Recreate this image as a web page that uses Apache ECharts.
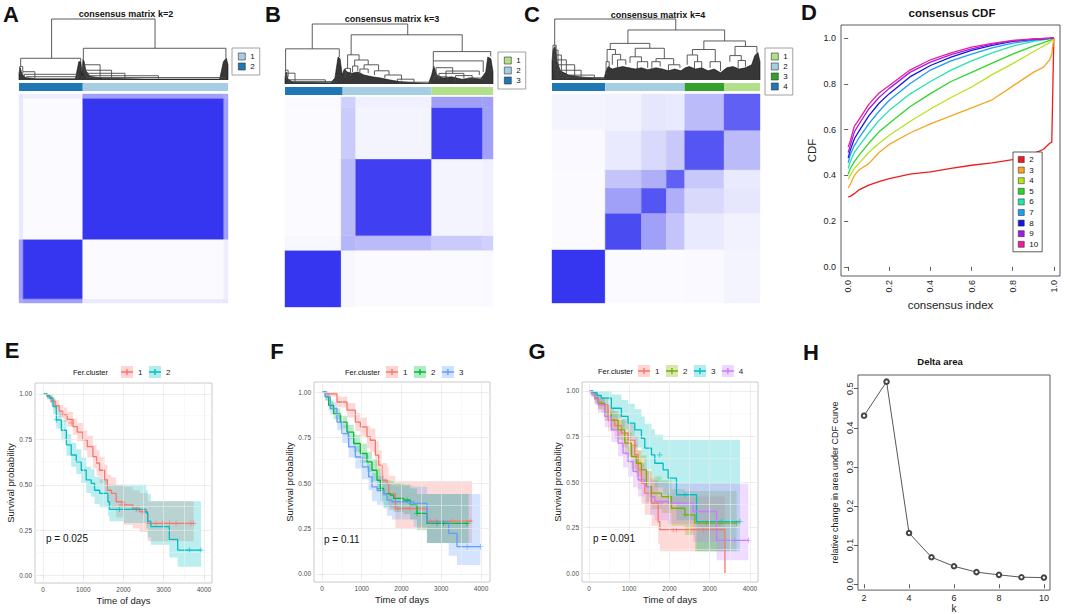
<!DOCTYPE html>
<html><head><meta charset="utf-8">
<script src="https://cdn.jsdelivr.net/npm/echarts@6/dist/echarts.min.js"></script>
<style>html,body{margin:0;padding:0;background:#fff}#c{width:1065px;height:614px}</style>
</head><body><div id="c"></div>
<script>
// ================= DATA =================
// --- consensus matrices: segment bounds (sample position 0-100) and block consensus values
const heatBoundsA = [0, 2, 30.5, 98, 100];
const heatBlocksA = [
  [0.40, 0.45, 0.10, 0.12],
  [0.45, 0.95, 0.02, 0.08],
  [0.10, 0.02, 0.95, 0.45],
  [0.12, 0.08, 0.45, 0.40]
];
const heatBoundsB = [0, 27, 34, 70.5, 95, 100];
const heatBlocksB = [
  [0.95, 0.04, 0.02, 0.02, 0.03],
  [0.04, 0.35, 0.32, 0.25, 0.22],
  [0.02, 0.32, 0.90, 0.05, 0.07],
  [0.02, 0.25, 0.05, 0.90, 0.45],
  [0.03, 0.22, 0.07, 0.45, 0.45]
];
const heatBoundsC = [0, 25.6, 43, 55, 63.8, 82.7, 100];
const heatBlocksC = [
  [0.95, 0.02, 0.02, 0.02, 0.03, 0.05],
  [0.02, 0.85, 0.45, 0.28, 0.10, 0.06],
  [0.02, 0.45, 0.80, 0.38, 0.18, 0.12],
  [0.02, 0.28, 0.38, 0.75, 0.26, 0.10],
  [0.03, 0.10, 0.18, 0.26, 0.80, 0.32],
  [0.05, 0.06, 0.12, 0.10, 0.32, 0.75]
];
// --- cluster colour bars: [start, end, cluster]
const barsA = [[0, 30.5, '2'], [30.5, 100, '1']];
const barsB = [[0, 27.7, '3'], [27.7, 70.5, '2'], [70.5, 100, '1']];
const barsC = [[0, 25.6, '4'], [25.6, 63.8, '2'], [63.8, 82.7, '3'], [82.7, 100, '1']];
const clusterColA = {'1': '#A6CEE3', '2': '#1F78B4'};
const clusterColB = {'1': '#B2DF8A', '2': '#A6CEE3', '3': '#1F78B4'};
const clusterColC = {'1': '#B2DF8A', '2': '#A6CEE3', '3': '#33A02C', '4': '#1F78B4'};
// --- dendrogram merges: [xLeft, hLeft, xRight, hRight, hMerge]
const dendroA = [
  [15.6, 0.356, 65.1, 0.52, 1.0],
  [0.8, 0.22, 29.5, 0.30, 0.356],
  [30.8, 0.34, 99.0, 0.36, 0.52],
  [0.3, 0.10, 1.8, 0.14, 0.22],
  [1.8, 0.09, 7.6, 0.03, 0.136],
  [2.5, 0.05, 28.1, 0.02, 0.093],
  [3.5, 0.02, 27.0, 0.02, 0.054],
  [31.2, 0.16, 38.8, 0.05, 0.25],
  [31.5, 0.11, 44.3, 0.03, 0.16],
  [31.8, 0.07, 50.7, 0.02, 0.11],
  [32.2, 0.04, 66.7, 0.02, 0.07],
  [32.5, 0.02, 98.6, 0.02, 0.04]
];
const dendroB = [
  [13.1, 0.586, 59.0, 0.82, 1.0],
  [0.3, 0.23, 26.1, 0.45, 0.586],
  [31.8, 0.486, 85.2, 0.54, 0.82],
  [30.1, 0.26, 35.6, 0.40, 0.486],
  [71.3, 0.385, 98.9, 0.46, 0.54],
  [0.2, 0.10, 1.5, 0.12, 0.23],
  [0.8, 0.07, 4.8, 0.03, 0.18],
  [1.6, 0.04, 19.4, 0.02, 0.07],
  [2.0, 0.02, 24.8, 0.02, 0.04],
  [29.0, 0.10, 31.5, 0.12, 0.26],
  [33.5, 0.30, 40.0, 0.32, 0.40],
  [32.5, 0.20, 35.0, 0.22, 0.30],
  [38.0, 0.25, 45.0, 0.22, 0.32],
  [36.0, 0.15, 40.0, 0.18, 0.25],
  [43.0, 0.15, 50.0, 0.15, 0.22],
  [48.0, 0.10, 56.0, 0.06, 0.15],
  [54.0, 0.04, 62.0, 0.02, 0.08],
  [55.0, 0.01, 70.0, 0.00, 0.03],
  [71.3, 0.272, 95.3, 0.20, 0.385],
  [72.6, 0.12, 80.6, 0.18, 0.272],
  [77.4, 0.10, 93.4, 0.15, 0.216],
  [74.0, 0.08, 86.0, 0.10, 0.177],
  [71.5, 0.05, 78.0, 0.06, 0.12],
  [82.0, 0.05, 90.0, 0.08, 0.14],
  [88.0, 0.04, 95.0, 0.06, 0.10]
];
const dendroC = [
  [1.3, 0.57, 59.5, 0.82, 1.0],
  [0.5, 0.49, 2.0, 0.30, 0.57],
  [0.5, 0.41, 2.9, 0.10, 0.49],
  [0.8, 0.33, 4.5, 0.08, 0.41],
  [1.0, 0.25, 6.9, 0.06, 0.33],
  [1.3, 0.16, 10.9, 0.05, 0.25],
  [1.6, 0.08, 14.0, 0.04, 0.16],
  [2.0, 0.04, 20.4, 0.02, 0.08],
  [2.5, 0.02, 25.2, 0.01, 0.04],
  [36.5, 0.60, 83.0, 0.64, 0.82],
  [28.0, 0.50, 47.0, 0.52, 0.60],
  [26.5, 0.30, 30.5, 0.42, 0.50],
  [26.0, 0.10, 27.5, 0.20, 0.30],
  [29.0, 0.25, 33.0, 0.33, 0.42],
  [31.5, 0.20, 35.5, 0.25, 0.33],
  [40.0, 0.38, 54.0, 0.35, 0.52],
  [37.5, 0.28, 43.0, 0.30, 0.38],
  [41.0, 0.18, 46.0, 0.20, 0.30],
  [50.0, 0.30, 58.5, 0.25, 0.35],
  [48.0, 0.20, 52.0, 0.22, 0.30],
  [56.0, 0.15, 61.5, 0.20, 0.25],
  [73.0, 0.50, 93.0, 0.55, 0.64],
  [67.5, 0.41, 78.5, 0.30, 0.50],
  [65.0, 0.25, 70.0, 0.30, 0.41],
  [68.5, 0.18, 72.0, 0.20, 0.30],
  [76.0, 0.20, 81.0, 0.15, 0.30],
  [88.0, 0.40, 98.5, 0.45, 0.55],
  [85.5, 0.30, 91.0, 0.32, 0.40],
  [89.5, 0.20, 93.0, 0.22, 0.32]
];
// --- dense leaf fringe of each dendrogram: [x, h]
const fringeA = [[0,0],[0,0.12],[0.6,0.2],[1.4,0.1],[3,0.04],[8,0.02],[27,0.02],[28.6,0.3],[29.6,0.3],[30.2,0.08],[30.6,0.34],[31.2,0.3],[32,0.15],[34,0.06],[40,0.03],[60,0.015],[96,0.015],[97.8,0.3],[99.2,0.36],[100,0.25],[100,0]];
const fringeB = [[0,0],[0,0.1],[0.5,0.2],[1.5,0.08],[4,0.03],[22,0.02],[24,0.1],[25.5,0.45],[26.5,0.42],[27.5,0.15],[28.5,0.25],[30,0.2],[32,0.18],[35,0.2],[38,0.15],[42,0.12],[46,0.1],[50,0.07],[55,0.04],[62,0.02],[69,0.01],[70.5,0.15],[71.5,0.3],[73,0.15],[76,0.1],[80,0.12],[85,0.08],[90,0.1],[94,0.08],[96.5,0.2],[97.5,0.45],[99,0.42],[100,0.2],[100,0]];
const fringeC = [[0,0],[0,0.3],[0.5,0.5],[1.5,0.55],[2.5,0.3],[4,0.15],[8,0.08],[14,0.05],[20,0.03],[25,0.02],[26,0.15],[27,0.22],[29,0.18],[31,0.2],[34,0.22],[37,0.2],[40,0.18],[43,0.2],[46,0.17],[50,0.2],[53,0.18],[56,0.15],[59,0.18],[62,0.15],[64,0.2],[66,0.22],[69,0.18],[72,0.2],[75,0.15],[78,0.18],[81,0.12],[84,0.2],[87,0.22],[90,0.18],[93,0.2],[96,0.25],[97.5,0.4],[99,0.45],[100,0.3],[100,0]];

// --- consensus CDF (panel D)
const consensusIndex = [0, 0.01, 0.03, 0.05, 0.1, 0.15, 0.2, 0.3, 0.4, 0.5, 0.6, 0.7, 0.8, 0.9, 0.95, 0.98, 0.99, 1.0];
const cdfK = ['2','3','4','5','6','7','8','9','10'];
const cdfK2  = [0.306,0.308,0.32,0.335,0.357,0.372,0.386,0.405,0.415,0.43,0.444,0.454,0.469,0.495,0.514,0.54,0.545,1.0];
const cdfK3  = [0.345,0.36,0.40,0.422,0.451,0.50,0.535,0.585,0.625,0.66,0.695,0.73,0.79,0.85,0.873,0.905,0.93,1.0];
const cdfK4  = [0.383,0.40,0.43,0.45,0.50,0.54,0.575,0.635,0.69,0.74,0.786,0.84,0.888,0.94,0.965,0.98,0.99,0.997];
const cdfK5  = [0.405,0.43,0.46,0.485,0.54,0.59,0.628,0.70,0.757,0.81,0.85,0.89,0.93,0.965,0.98,0.99,0.995,1.0];
const cdfK6  = [0.43,0.46,0.50,0.525,0.585,0.64,0.684,0.755,0.81,0.86,0.90,0.935,0.965,0.985,0.992,0.997,0.998,1.0];
const cdfK7  = [0.455,0.49,0.53,0.56,0.625,0.68,0.728,0.80,0.86,0.90,0.93,0.957,0.978,0.99,0.995,0.998,0.999,1.0];
const cdfK8  = [0.476,0.51,0.56,0.59,0.66,0.715,0.757,0.83,0.88,0.917,0.946,0.968,0.985,0.994,0.997,0.999,1.0,1.0];
const cdfK9  = [0.50,0.53,0.59,0.62,0.69,0.74,0.78,0.85,0.895,0.928,0.953,0.973,0.988,0.995,0.998,0.999,1.0,1.0];
const cdfK10 = [0.524,0.55,0.615,0.64,0.71,0.76,0.793,0.86,0.905,0.935,0.96,0.977,0.99,0.996,0.998,1.0,1.0,1.0];
const cdfColors = ['#EE1C1C','#F5A623','#B4E41E','#2CD62C','#24E3B0','#1E9EEE','#1616E0','#9E1EE6','#EE1E9C'];
const cdfTicks = [0, 0.2, 0.4, 0.6, 0.8, 1.0];

// --- Kaplan-Meier: [time, survival, lower CI, upper CI]
const kmE1 = [[0,1,1,1],[100,0.985,0.97,1],[200,0.96,0.935,0.985],[300,0.935,0.905,0.965],[400,0.905,0.87,0.94],[500,0.884,0.845,0.925],[600,0.86,0.82,0.9],[744,0.82,0.775,0.865],[850,0.79,0.74,0.84],[990,0.747,0.69,0.80],[1100,0.71,0.65,0.77],[1240,0.655,0.59,0.72],[1330,0.62,0.55,0.69],[1405,0.58,0.51,0.655],[1530,0.527,0.45,0.61],[1600,0.47,0.39,0.555],[1700,0.453,0.37,0.54],[1818,0.407,0.32,0.50],[2000,0.39,0.28,0.49],[2231,0.37,0.26,0.47],[2400,0.352,0.24,0.455],[2600,0.288,0.19,0.41],[3744,0.288,0.19,0.41]];
const kmE2 = [[0,1,1,1],[100,0.99,0.97,1],[165,0.976,0.95,1],[248,0.93,0.89,0.97],[330,0.857,0.81,0.905],[455,0.80,0.745,0.855],[580,0.72,0.66,0.78],[700,0.664,0.60,0.73],[826,0.627,0.56,0.695],[950,0.58,0.51,0.65],[1074,0.527,0.455,0.60],[1198,0.508,0.435,0.585],[1281,0.47,0.395,0.545],[1405,0.453,0.375,0.53],[1612,0.407,0.33,0.50],[1653,0.365,0.30,0.50],[2000,0.365,0.29,0.50],[2562,0.345,0.26,0.47],[2603,0.30,0.21,0.45],[2680,0.27,0.17,0.41],[3140,0.20,0.10,0.41],[3347,0.141,0.05,0.41],[3926,0.141,0.05,0.41]];
const censE1 = [[496,0.884],[700,0.84],[1942,0.39],[2025,0.39],[2355,0.37],[2479,0.352],[2810,0.288],[2975,0.288],[3140,0.288],[3306,0.288],[3678,0.288],[3744,0.288]];
const censE2 = [[330,0.857],[1900,0.365],[2314,0.365],[3636,0.141],[3926,0.141]];

const kmF1 = [[0,1,1,1],[126,0.99,0.975,1],[377,0.945,0.915,0.975],[629,0.90,0.86,0.94],[839,0.835,0.785,0.885],[964,0.808,0.755,0.86],[1132,0.753,0.69,0.815],[1216,0.735,0.67,0.80],[1342,0.653,0.58,0.73],[1426,0.598,0.52,0.68],[1509,0.515,0.43,0.61],[1635,0.497,0.41,0.59],[1677,0.442,0.35,0.54],[1845,0.36,0.25,0.51],[2641,0.29,0.17,0.51],[3774,0.29,0.17,0.51]];
const kmF2 = [[0,1,1,1],[80,0.975,0.955,0.995],[168,0.927,0.90,0.955],[293,0.88,0.85,0.91],[461,0.835,0.80,0.87],[629,0.78,0.74,0.82],[797,0.717,0.67,0.765],[964,0.662,0.61,0.715],[1132,0.616,0.56,0.67],[1258,0.57,0.51,0.63],[1384,0.515,0.45,0.58],[1468,0.47,0.40,0.54],[1551,0.442,0.37,0.515],[1719,0.433,0.36,0.51],[1803,0.415,0.34,0.50],[2055,0.406,0.33,0.49],[2222,0.378,0.30,0.47],[2390,0.333,0.24,0.44],[2641,0.278,0.17,0.44],[3690,0.278,0.17,0.44]];
const kmF3 = [[0,1,1,1],[84,0.973,0.95,0.995],[210,0.91,0.875,0.945],[377,0.835,0.79,0.88],[503,0.771,0.72,0.82],[671,0.698,0.64,0.755],[839,0.643,0.58,0.705],[1006,0.589,0.52,0.655],[1174,0.534,0.46,0.605],[1258,0.479,0.40,0.555],[1384,0.46,0.38,0.54],[1551,0.442,0.36,0.525],[1635,0.406,0.32,0.49],[1761,0.397,0.30,0.485],[2306,0.388,0.26,0.48],[2641,0.287,0.17,0.44],[3187,0.223,0.10,0.44],[3396,0.15,0.05,0.44],[3983,0.15,0.05,0.44]];
const censF1 = [[1900,0.36],[2200,0.36],[2725,0.29],[2851,0.29],[3270,0.29],[3732,0.29]];
const censF2 = [[1468,0.47],[2138,0.406],[2390,0.333],[2893,0.278],[3060,0.278],[3648,0.278]];
const censF3 = [[2222,0.388],[2500,0.388],[3650,0.15],[3983,0.15]];

const kmG1 = [[0,1,1,1],[60,0.985,0.97,1],[150,0.96,0.93,0.99],[230,0.94,0.90,0.975],[307,0.923,0.88,0.965],[473,0.84,0.78,0.90],[639,0.81,0.74,0.88],[805,0.768,0.69,0.845],[971,0.73,0.64,0.82],[1137,0.65,0.55,0.75],[1220,0.567,0.46,0.67],[1303,0.494,0.38,0.61],[1386,0.439,0.32,0.56],[1552,0.384,0.26,0.51],[1718,0.283,0.16,0.42],[1760,0.238,0.12,0.42],[3378,0,0,0]];
const kmG2 = [[0,1,1,1],[60,0.985,0.97,1],[140,0.96,0.935,0.985],[224,0.932,0.90,0.965],[390,0.877,0.835,0.92],[556,0.84,0.79,0.89],[722,0.786,0.73,0.84],[888,0.713,0.65,0.775],[1054,0.64,0.57,0.71],[1178,0.603,0.53,0.675],[1303,0.567,0.49,0.645],[1427,0.475,0.39,0.56],[1552,0.439,0.35,0.53],[1801,0.42,0.33,0.51],[2050,0.356,0.26,0.46],[2382,0.32,0.21,0.45],[2631,0.274,0.12,0.45],[3668,0.274,0.12,0.45]];
const kmG3 = [[0,1,1,1],[100,0.99,0.97,1],[200,0.975,0.945,1],[307,0.96,0.92,1],[556,0.905,0.85,0.98],[805,0.86,0.79,0.95],[971,0.823,0.74,0.93],[1137,0.786,0.69,0.90],[1303,0.74,0.63,0.86],[1386,0.686,0.57,0.82],[1552,0.649,0.53,0.79],[1635,0.603,0.47,0.76],[1842,0.567,0.43,0.73],[1967,0.521,0.38,0.73],[2174,0.43,0.29,0.73],[2672,0.283,0.12,0.73],[3751,0.283,0.12,0.73]];
const kmG4 = [[0,1,1,1],[60,0.985,0.97,1],[140,0.955,0.925,0.985],[224,0.923,0.88,0.965],[390,0.86,0.80,0.92],[556,0.786,0.72,0.85],[722,0.713,0.64,0.785],[846,0.658,0.58,0.735],[971,0.612,0.53,0.695],[1095,0.558,0.47,0.645],[1220,0.512,0.42,0.60],[1386,0.475,0.38,0.57],[1510,0.42,0.32,0.52],[1635,0.393,0.29,0.50],[1967,0.384,0.27,0.49],[2589,0.338,0.17,0.49],[3170,0.18,0.07,0.49],[3959,0.18,0.07,0.49]];
const censG1 = [[971,0.75],[1137,0.70],[2091,0.238],[2174,0.238],[2838,0.238]];
const censG2 = [[1967,0.42],[2382,0.32],[2921,0.274],[3253,0.274],[3668,0.274]];
const censG3 = [[1759,0.649],[2382,0.43],[3295,0.283],[3751,0.283]];
const censG4 = [[1801,0.384],[2216,0.384],[3627,0.18],[3959,0.18]];

const kmTimeTicks = [0, 1000, 2000, 3000, 4000];
const kmTimeMinor = [500, 1500, 2500, 3500];
const kmSurvTicks = [0, 0.25, 0.5, 0.75, 1.0];
const kmSurvMinor = [0.125, 0.375, 0.625, 0.875];
const hue2 = ['#F8766D', '#00BFC4'];
const hue3 = ['#F8766D', '#00BA38', '#619CFF'];
const hue4 = ['#F8766D', '#7CAE00', '#00BFC4', '#C77CFF'];
const pValues = ['p = 0.025', 'p = 0.11', 'p = 0.091'];

// --- Delta area (panel H)
const deltaK = [2, 3, 4, 5, 6, 7, 8, 9, 10];
const deltaArea = [0.431, 0.518, 0.131, 0.069, 0.046, 0.031, 0.024, 0.018, 0.017];
const deltaXTicks = [2, 4, 6, 8, 10];
const deltaYTicks = [0, 0.1, 0.2, 0.3, 0.4, 0.5];

// ================= CHART =================
const FONT = '"Liberation Sans", Arial, Helvetica, sans-serif';
const chart = echarts.init(document.getElementById('c'), null, {renderer: 'svg'});

function blueOf(v) {
  const r = Math.round(255 - 212 * v), b = Math.round(255 - 15 * v);
  return 'rgb(' + r + ',' + r + ',' + b + ')';
}
function rgba(hex, a) {
  const n = parseInt(hex.slice(1), 16);
  return 'rgba(' + (n >> 16) + ',' + ((n >> 8) & 255) + ',' + (n & 255) + ',' + a + ')';
}
function heatCells(bounds, M) {
  const out = [];
  for (let i = 0; i < bounds.length - 1; i++)
    for (let j = 0; j < bounds.length - 1; j++)
      out.push([bounds[i], bounds[i + 1], bounds[j], bounds[j + 1], M[i][j]]);
  return out;
}

const grids = [], xAxes = [], yAxes = [], series = [], legends = [], texts = [];
function hiddenAxes(idx, ymax) {
  xAxes.push({gridIndex: idx, type: 'value', min: 0, max: 100, show: false});
  yAxes.push({gridIndex: idx, type: 'value', min: 0, max: ymax, show: false});
}

// ---- panels A, B, C ----
const matrixPanels = [
  {x: 19, w: 209, dTop: 19, dH: 61, bTop: 83, hTop: 94, hH: 209, bounds: heatBoundsA, blocks: heatBlocksA, bars: barsA, cols: clusterColA, dendro: dendroA, fringe: fringeA,
   legend: {left: 232, top: 48, names: ['1', '2']}},
  {x: 285, w: 208, dTop: 24, dH: 60, bTop: 87, hTop: 97, hH: 210, bounds: heatBoundsB, blocks: heatBlocksB, bars: barsB, cols: clusterColB, dendro: dendroB, fringe: fringeB,
   legend: {left: 498, top: 52, names: ['1', '2', '3']}},
  {x: 552, w: 208, dTop: 19, dH: 61, bTop: 83, hTop: 94, hH: 209, bounds: heatBoundsC, blocks: heatBlocksC, bars: barsC, cols: clusterColC, dendro: dendroC, fringe: fringeC,
   legend: {left: 765, top: 48, names: ['1', '2', '3', '4']}}
];
matrixPanels.forEach(function (p) {
  const gD = grids.length;
  grids.push({left: p.x, top: p.dTop, width: p.w, height: p.dH});
  hiddenAxes(gD, 1);
  const gB = grids.length;
  grids.push({left: p.x, top: p.bTop, width: p.w, height: 8});
  hiddenAxes(gB, 1);
  const gH = grids.length;
  grids.push({left: p.x, top: p.hTop, width: p.w, height: p.hH});
  hiddenAxes(gH, 100);
  series.push({type: 'line', xAxisIndex: gD, yAxisIndex: gD, data: p.fringe, symbol: 'none', silent: true,
    lineStyle: {width: 0.6, color: '#111'}, areaStyle: {color: '#262626', opacity: 0.92}, z: 2});
  series.push({type: 'custom', xAxisIndex: gD, yAxisIndex: gD, data: p.dendro, silent: true, z: 3,
    encode: {x: [0, 2], y: [1, 3, 4]},
    renderItem: function (params, api) {
      const a = api.coord([api.value(0), api.value(1)]);
      const b = api.coord([api.value(0), api.value(4)]);
      const c = api.coord([api.value(2), api.value(4)]);
      const d = api.coord([api.value(2), api.value(3)]);
      return {type: 'polyline', shape: {points: [a, b, c, d]}, style: {stroke: '#4a4a4a', lineWidth: 0.9, fill: null}};
    }});
  const cols = p.cols;
  series.push({type: 'custom', xAxisIndex: gB, yAxisIndex: gB, data: p.bars.map(function (b) { return [b[0], b[1]]; }), silent: true,
    encode: {x: [0, 1]},
    renderItem: function (params, api) {
      const item = p.bars[params.dataIndex];
      const p0 = api.coord([api.value(0), 1]);
      const p1 = api.coord([api.value(1), 0]);
      return {type: 'rect', shape: {x: p0[0], y: p0[1], width: p1[0] - p0[0], height: p1[1] - p0[1]}, style: {fill: cols[item[2]]}};
    }});
  series.push({type: 'custom', xAxisIndex: gH, yAxisIndex: gH, data: heatCells(p.bounds, p.blocks), silent: true,
    encode: {x: [0, 1], y: [2, 3]},
    renderItem: function (params, api) {
      const p0 = api.coord([api.value(0), api.value(3)]);
      const p1 = api.coord([api.value(1), api.value(2)]);
      const col = blueOf(api.value(4));
      return {type: 'rect', shape: {x: p0[0], y: p0[1], width: p1[0] - p0[0], height: p1[1] - p0[1]},
        style: {fill: col, stroke: col, lineWidth: 0.4}};
    }});
  legends.push({left: p.legend.left, top: p.legend.top, orient: 'vertical', selectedMode: false,
    padding: [4, 5, 4, 6], itemGap: 1, itemWidth: 7, itemHeight: 7, icon: 'rect',
    borderColor: '#8c8c8c', borderWidth: 0.8, backgroundColor: '#fff',
    textStyle: {fontSize: 8, lineHeight: 9, fontFamily: FONT, color: '#111'},
    data: p.legend.names.map(function (n) { return {name: n, itemStyle: {color: cols[n], borderColor: '#333', borderWidth: 0.6}}; })});
});

// ---- panel D : consensus CDF ----
const gD = grids.length;
grids.push({left: 841, top: 25, width: 219, height: 251, show: true, borderColor: '#333', borderWidth: 0.8});
const rAxisText = {fontSize: 9, color: '#222', fontFamily: FONT};
xAxes.push({gridIndex: gD, type: 'value', min: -0.035, max: 1.03, axisLine: {show: false}, splitLine: {show: false},
  axisTick: {show: true, length: 4, customValues: cdfTicks, lineStyle: {color: '#333', width: 0.8}},
  axisLabel: Object.assign({customValues: cdfTicks, rotate: 90, margin: 4, formatter: function (v) { return v.toFixed(1); }}, rAxisText),
  name: 'consensus index', nameLocation: 'middle', nameGap: 23, nameTextStyle: {fontSize: 11.5, fontFamily: FONT, color: '#222'}});
yAxes.push({gridIndex: gD, type: 'value', min: -0.04, max: 1.057, axisLine: {show: false}, splitLine: {show: false},
  axisTick: {show: true, length: 4, customValues: cdfTicks, lineStyle: {color: '#333', width: 0.8}},
  axisLabel: Object.assign({customValues: cdfTicks, margin: 5, formatter: function (v) { return v.toFixed(1); }}, rAxisText),
  name: 'CDF', nameLocation: 'middle', nameGap: 23, nameTextStyle: {fontSize: 11.5, fontFamily: FONT, color: '#222'}});
const cdfValues = [cdfK2, cdfK3, cdfK4, cdfK5, cdfK6, cdfK7, cdfK8, cdfK9, cdfK10];
cdfValues.forEach(function (vals, i) {
  series.push({type: 'line', name: cdfK[i], xAxisIndex: gD, yAxisIndex: gD, symbol: 'none', silent: true,
    data: consensusIndex.map(function (c, j) { return [c, vals[j]]; }),
    lineStyle: {color: cdfColors[i], width: 1.3}, itemStyle: {color: cdfColors[i]}, z: 3});
});
legends.push({left: 1013, top: 152, orient: 'vertical', selectedMode: false,
  padding: [3, 4, 3, 5], itemGap: 1.6, itemWidth: 6, itemHeight: 6, icon: 'rect',
  borderColor: '#333', borderWidth: 0.8, backgroundColor: '#fff',
  textStyle: {fontSize: 8, lineHeight: 9, fontFamily: FONT, color: '#111'},
  data: cdfK.map(function (k, i) { return {name: k, itemStyle: {color: cdfColors[i], borderColor: '#222', borderWidth: 0.5}}; })});

// ---- panels E, F, G : Kaplan-Meier ----
const plusPath = 'path://M4.3,0H5.7V10H4.3ZM0,4.3H10V5.7H0Z';
const lineIcon = 'path://M0,0L0,0M12,12L12,12M0,5.3H12V6.7H0ZM5.3,3H6.7V9H5.3Z';
const kmPanels = [
  {left: 35, top: 383, w: 177, h: 200, xmin: -200, xmax: 4200, ymin: -0.04, ymax: 1.06, groups: [kmE1, kmE2], cens: [censE1, censE2], cols: hue2,
   legLeft: 121, legTop: 366, ferX: 73, ferY: 372, p: pValues[0], pX: 46, pY: 538},
  {left: 314, top: 382, w: 176, h: 200, xmin: -201, xmax: 4226, ymin: -0.044, ymax: 1.055, groups: [kmF1, kmF2, kmF3], cens: [censF1, censF2, censF3], cols: hue3,
   legLeft: 386, legTop: 366, ferX: 345, ferY: 372, p: pValues[1], pX: 324, pY: 539},
  {left: 582, top: 382, w: 176, h: 200, xmin: -174, xmax: 4199, ymin: -0.049, ymax: 1.049, groups: [kmG1, kmG2, kmG3, kmG4], cens: [censG1, censG2, censG3, censG4], cols: hue4,
   legLeft: 638, legTop: 365, ferX: 598, ferY: 371, p: pValues[2], pX: 593, pY: 538}
];
const kmTick = {fontSize: 6.5, color: '#4d4d4d', fontFamily: FONT};
kmPanels.forEach(function (p, pi) {
  const g = grids.length;
  grids.push({left: p.left, top: p.top, width: p.w, height: p.h, show: true, borderColor: '#bdbdbd', borderWidth: 0.8, backgroundColor: '#fff'});
  xAxes.push({gridIndex: g, type: 'value', min: p.xmin, max: p.xmax, axisLine: {show: false}, splitLine: {show: false},
    axisTick: {show: true, length: 2.5, customValues: kmTimeTicks, lineStyle: {color: '#bdbdbd', width: 0.6}},
    axisLabel: Object.assign({customValues: kmTimeTicks, margin: 3, formatter: function (v) { return String(v); }}, kmTick),
    name: 'Time of days', nameLocation: 'middle', nameGap: 12, nameTextStyle: {fontSize: 9.5, fontFamily: FONT, color: '#222'}});
  yAxes.push({gridIndex: g, type: 'value', min: p.ymin, max: p.ymax, axisLine: {show: false}, splitLine: {show: false},
    axisTick: {show: true, length: 2.5, customValues: kmSurvTicks, lineStyle: {color: '#bdbdbd', width: 0.6}},
    axisLabel: Object.assign({customValues: kmSurvTicks, margin: 3, formatter: function (v) { return v.toFixed(2); }}, kmTick),
    name: 'Survival probability', nameLocation: 'middle', nameGap: 17, nameTextStyle: {fontSize: 9.5, fontFamily: FONT, color: '#222'}});
  const gl = [];
  kmTimeMinor.forEach(function (v) { gl.push({xAxis: v, lineStyle: {color: '#f3f3f3', width: 0.5, type: 'solid'}}); });
  kmSurvMinor.forEach(function (v) { gl.push({yAxis: v, lineStyle: {color: '#f3f3f3', width: 0.5, type: 'solid'}}); });
  kmTimeTicks.forEach(function (v) { gl.push({xAxis: v, lineStyle: {color: '#e6e6e6', width: 0.7, type: 'solid'}}); });
  kmSurvTicks.forEach(function (v) { gl.push({yAxis: v, lineStyle: {color: '#e6e6e6', width: 0.7, type: 'solid'}}); });
  series.push({type: 'line', xAxisIndex: g, yAxisIndex: g, data: [], silent: true, z: 1,
    markLine: {silent: true, symbol: ['none', 'none'], label: {show: false}, animation: false, data: gl}});
  p.groups.forEach(function (rows, gi) {
    const col = p.cols[gi];
    series.push({type: 'custom', xAxisIndex: g, yAxisIndex: g, silent: true, z: 2,
      data: rows, encode: {x: 0, y: [2, 3]},
      renderItem: function (params, api) {
        if (params.dataIndex !== 0) return null;
        const pts = [];
        for (let i = 0; i < rows.length; i++) {
          pts.push(api.coord([rows[i][0], rows[i][3]]));
          if (i < rows.length - 1) pts.push(api.coord([rows[i + 1][0], rows[i][3]]));
        }
        for (let i = rows.length - 1; i >= 0; i--) {
          if (i < rows.length - 1) pts.push(api.coord([rows[i + 1][0], rows[i][2]]));
          pts.push(api.coord([rows[i][0], rows[i][2]]));
        }
        return {type: 'polygon', shape: {points: pts}, style: {fill: rgba(col, 0.27), stroke: null}};
      }});
  });
  p.groups.forEach(function (rows, gi) {
    const col = p.cols[gi];
    series.push({type: 'line', name: String(gi + 1), xAxisIndex: g, yAxisIndex: g, step: 'end', symbol: 'none', silent: true, z: 3,
      data: rows.map(function (r) { return [r[0], r[1]]; }), lineStyle: {color: col, width: 1.3}, itemStyle: {color: col}});
    series.push({type: 'scatter', xAxisIndex: g, yAxisIndex: g, symbol: plusPath, symbolSize: 5.5, silent: true, z: 4,
      data: p.cens[gi], itemStyle: {color: col}});
  });
  const names = p.groups.map(function (r, i) { return String(i + 1); });
  legends.push({left: p.legLeft, top: p.legTop, orient: 'horizontal', selectedMode: false, padding: 0, itemGap: 6.5,
    itemWidth: 12, itemHeight: 12, icon: 'rect', textStyle: {fontSize: 8, fontFamily: FONT, color: 'rgba(0,0,0,0)'},
    data: names.map(function (n, i) { return {name: n, itemStyle: {color: rgba(p.cols[i], 0.3), borderWidth: 0, borderColor: 'rgba(0,0,0,0)'}}; })});
  legends.push({left: p.legLeft, top: p.legTop, orient: 'horizontal', selectedMode: false, padding: 0, itemGap: 6.5,
    itemWidth: 12, itemHeight: 12, icon: lineIcon, textStyle: {fontSize: 8, fontFamily: FONT, color: '#222'},
    data: names.map(function (n, i) { return {name: n, itemStyle: {color: p.cols[i], borderWidth: 0, borderColor: 'rgba(0,0,0,0)'}}; })});
  texts.push({t: 'Fer.cluster', x: p.ferX, y: p.ferY, size: 7.5, align: 'left'});
  texts.push({t: p.p, x: p.pX, y: p.pY, size: 10, align: 'left'});
});

// ---- panel H : Delta area ----
const gHd = grids.length;
grids.push({left: 858, top: 375, width: 192, height: 217, show: true, borderColor: '#333', borderWidth: 0.8});
xAxes.push({gridIndex: gHd, type: 'value', min: 1.73, max: 10.27, axisLine: {show: false}, splitLine: {show: false},
  axisTick: {show: true, length: 4, customValues: deltaXTicks, lineStyle: {color: '#333', width: 0.8}},
  axisLabel: Object.assign({customValues: deltaXTicks, margin: 3}, rAxisText),
  name: 'k', nameLocation: 'middle', nameGap: 10, nameTextStyle: {fontSize: 10, fontFamily: FONT, color: '#222'}});
yAxes.push({gridIndex: gHd, type: 'value', min: -0.015, max: 0.535, axisLine: {show: false}, splitLine: {show: false},
  axisTick: {show: true, length: 4, customValues: deltaYTicks, lineStyle: {color: '#333', width: 0.8}},
  axisLabel: Object.assign({customValues: deltaYTicks, rotate: 90, margin: 4, formatter: function (v) { return v.toFixed(1); }}, rAxisText),
  name: 'relative change in area under CDF curve', nameLocation: 'middle', nameGap: 19, nameTextStyle: {fontSize: 9, fontFamily: FONT, color: '#222'}});
series.push({type: 'line', xAxisIndex: gHd, yAxisIndex: gHd, silent: true, symbol: 'emptyCircle', symbolSize: 4.5,
  data: deltaK.map(function (k, i) { return [k, deltaArea[i]]; }),
  lineStyle: {color: '#444', width: 0.9}, itemStyle: {color: '#444', borderWidth: 0.8}});

// ---- text labels ----
const letters = [['A', 11, 14], ['B', 273, 14], ['C', 532, 14], ['D', 809, 12], ['E', 12, 350], ['F', 277, 351], ['G', 537, 351], ['H', 811, 352]];
letters.forEach(function (l) { texts.push({t: l[0], x: l[1], y: l[2], size: 22, bold: true, align: 'center'}); });
texts.push({t: 'consensus matrix k=2', x: 126, y: 14, size: 9, bold: true, align: 'center'});
texts.push({t: 'consensus matrix k=3', x: 392, y: 19, size: 9, bold: true, align: 'center'});
texts.push({t: 'consensus matrix k=4', x: 658, y: 14.5, size: 9, bold: true, align: 'center'});
texts.push({t: 'consensus CDF', x: 952, y: 12.5, size: 11.5, bold: true, align: 'center'});
texts.push({t: 'Delta area', x: 940, y: 361, size: 9.5, bold: true, align: 'center'});

const graphicEls = texts.map(function (t) {
  return {type: 'text', x: t.x, y: t.y, silent: true, z: 100,
    style: {text: t.t, fill: '#111', fontSize: t.size, fontWeight: t.bold ? 'bold' : 'normal', fontFamily: FONT,
      textAlign: t.align, align: t.align, textVerticalAlign: 'middle', verticalAlign: 'middle'}};
});

chart.setOption({
  animation: false,
  backgroundColor: '#ffffff',
  textStyle: {fontFamily: FONT},
  grid: grids,
  xAxis: xAxes,
  yAxis: yAxes,
  legend: legends,
  series: series,
  graphic: {elements: graphicEls}
});
</script></body></html>
